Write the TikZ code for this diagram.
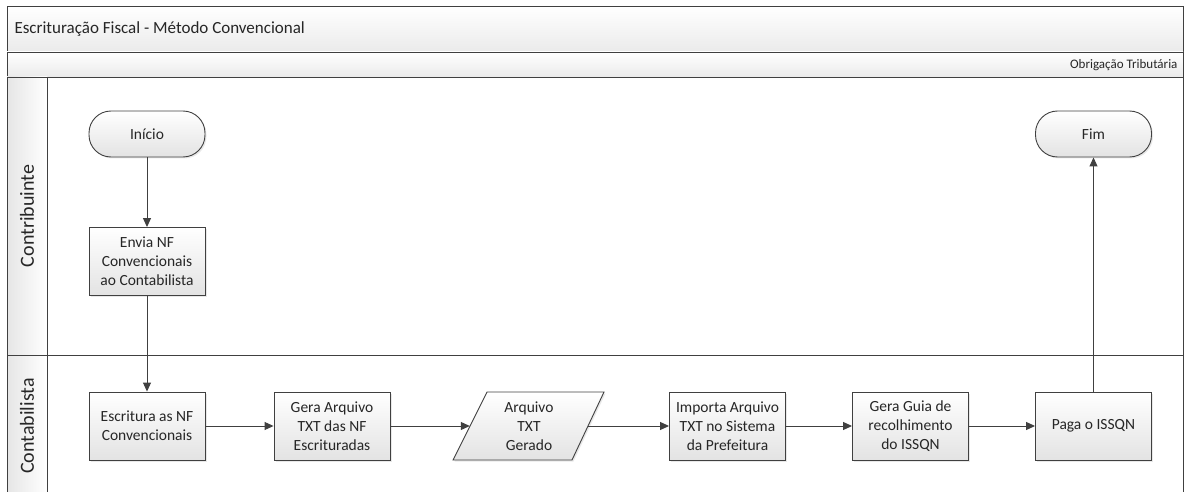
\documentclass[tikz,border=0pt]{standalone}
\usepackage{fontspec}
\setmainfont{Carlito}
\usetikzlibrary{arrows.meta,shadows}
\definecolor{edge}{HTML}{404040}
\tikzset{
  x=1pt,y=-1pt,
  box/.style={draw=edge,line width=0.9pt,top color=white,bottom color=black!11,
    drop shadow={opacity=0.18,shadow xshift=1.5pt,shadow yshift=-1.5pt},
    align=center,font=\fontsize{15.5}{19}\selectfont,text=black!85,inner sep=1pt},
  proc/.style={box,rectangle,minimum width=116pt,minimum height=68pt},
  term/.style={box,rectangle,rounded corners=22pt,minimum width=116pt,minimum height=46pt},
  flow/.style={draw=edge,line width=1pt,-{Triangle[length=9pt,width=8pt]}},
  band/.style={draw=edge,line width=0.9pt,top color=white,bottom color=black!8},
  lane/.style={font=\fontsize{20}{23}\selectfont,text=black!85,rotate=90},
}
\begin{document}
\begin{tikzpicture}
\useasboundingbox (0,0) rectangle (1186,492);
% frame and bands
\path[band] (7,6) rectangle (1183,52);
\path[band] (7,52) rectangle (1183,77);
\path[draw=edge,line width=0.9pt,left color=black!10,right color=white] (7,77) rectangle (47,500);
\draw[edge,line width=0.9pt] (47,77) rectangle (1183,500);
\draw[edge,line width=0.9pt] (7,355) -- (1183,355);
\node[anchor=west,font=\fontsize{17}{20}\selectfont,text=black!85] (title) at (11,29) {Escrituração Fiscal - Método Convencional};
\node[anchor=east,font=\fontsize{13}{15}\selectfont,text=black!85] (obr) at (1181,65) {Obrigação Tributária};
\node[lane] (l1) at (27,216) {Contribuinte};
\node[lane] (l2) at (27,426) {Contabilista};
% nodes
\node[term] (ini) at (147,134) {Início};
\node[proc] (envia) at (147,261.5) {Envia NF\\Convencionais\\ao Contabilista};
\node[proc] (escr) at (147,426) {Escritura as NF\\Convencionais};
\node[proc] (gera) at (332,426) {Gera Arquivo\\TXT das NF\\Escrituradas};
\path[box,draw=edge] (487,392) -- (604,392) -- (572,460) -- (453,460) -- cycle;
\node[minimum width=118pt,minimum height=68pt,align=center,font=\fontsize{15.5}{19}\selectfont,text=black!85,inner sep=0pt] (txt) at (529,426) {Arquivo\\TXT\\Gerado};
\node[proc] (imp) at (727.5,426) {Importa Arquivo\\TXT no Sistema\\da Prefeitura};
\node[proc] (guia) at (910.5,426) {Gera Guia de\\recolhimento\\do ISSQN};
\node[proc] (paga) at (1093.5,426) {Paga o ISSQN};
\node[term] (fim) at (1093.5,134) {Fim};
% connectors
\draw[flow] (ini) -- (envia);
\draw[flow] (envia) -- (escr);
\draw[flow] (escr) -- (gera);
\draw[flow] (gera) -- (txt);
\draw[flow] (txt) -- (imp);
\draw[flow] (imp) -- (guia);
\draw[flow] (guia) -- (paga);
\draw[flow] (paga) -- (fim);
\end{tikzpicture}
\end{document}
